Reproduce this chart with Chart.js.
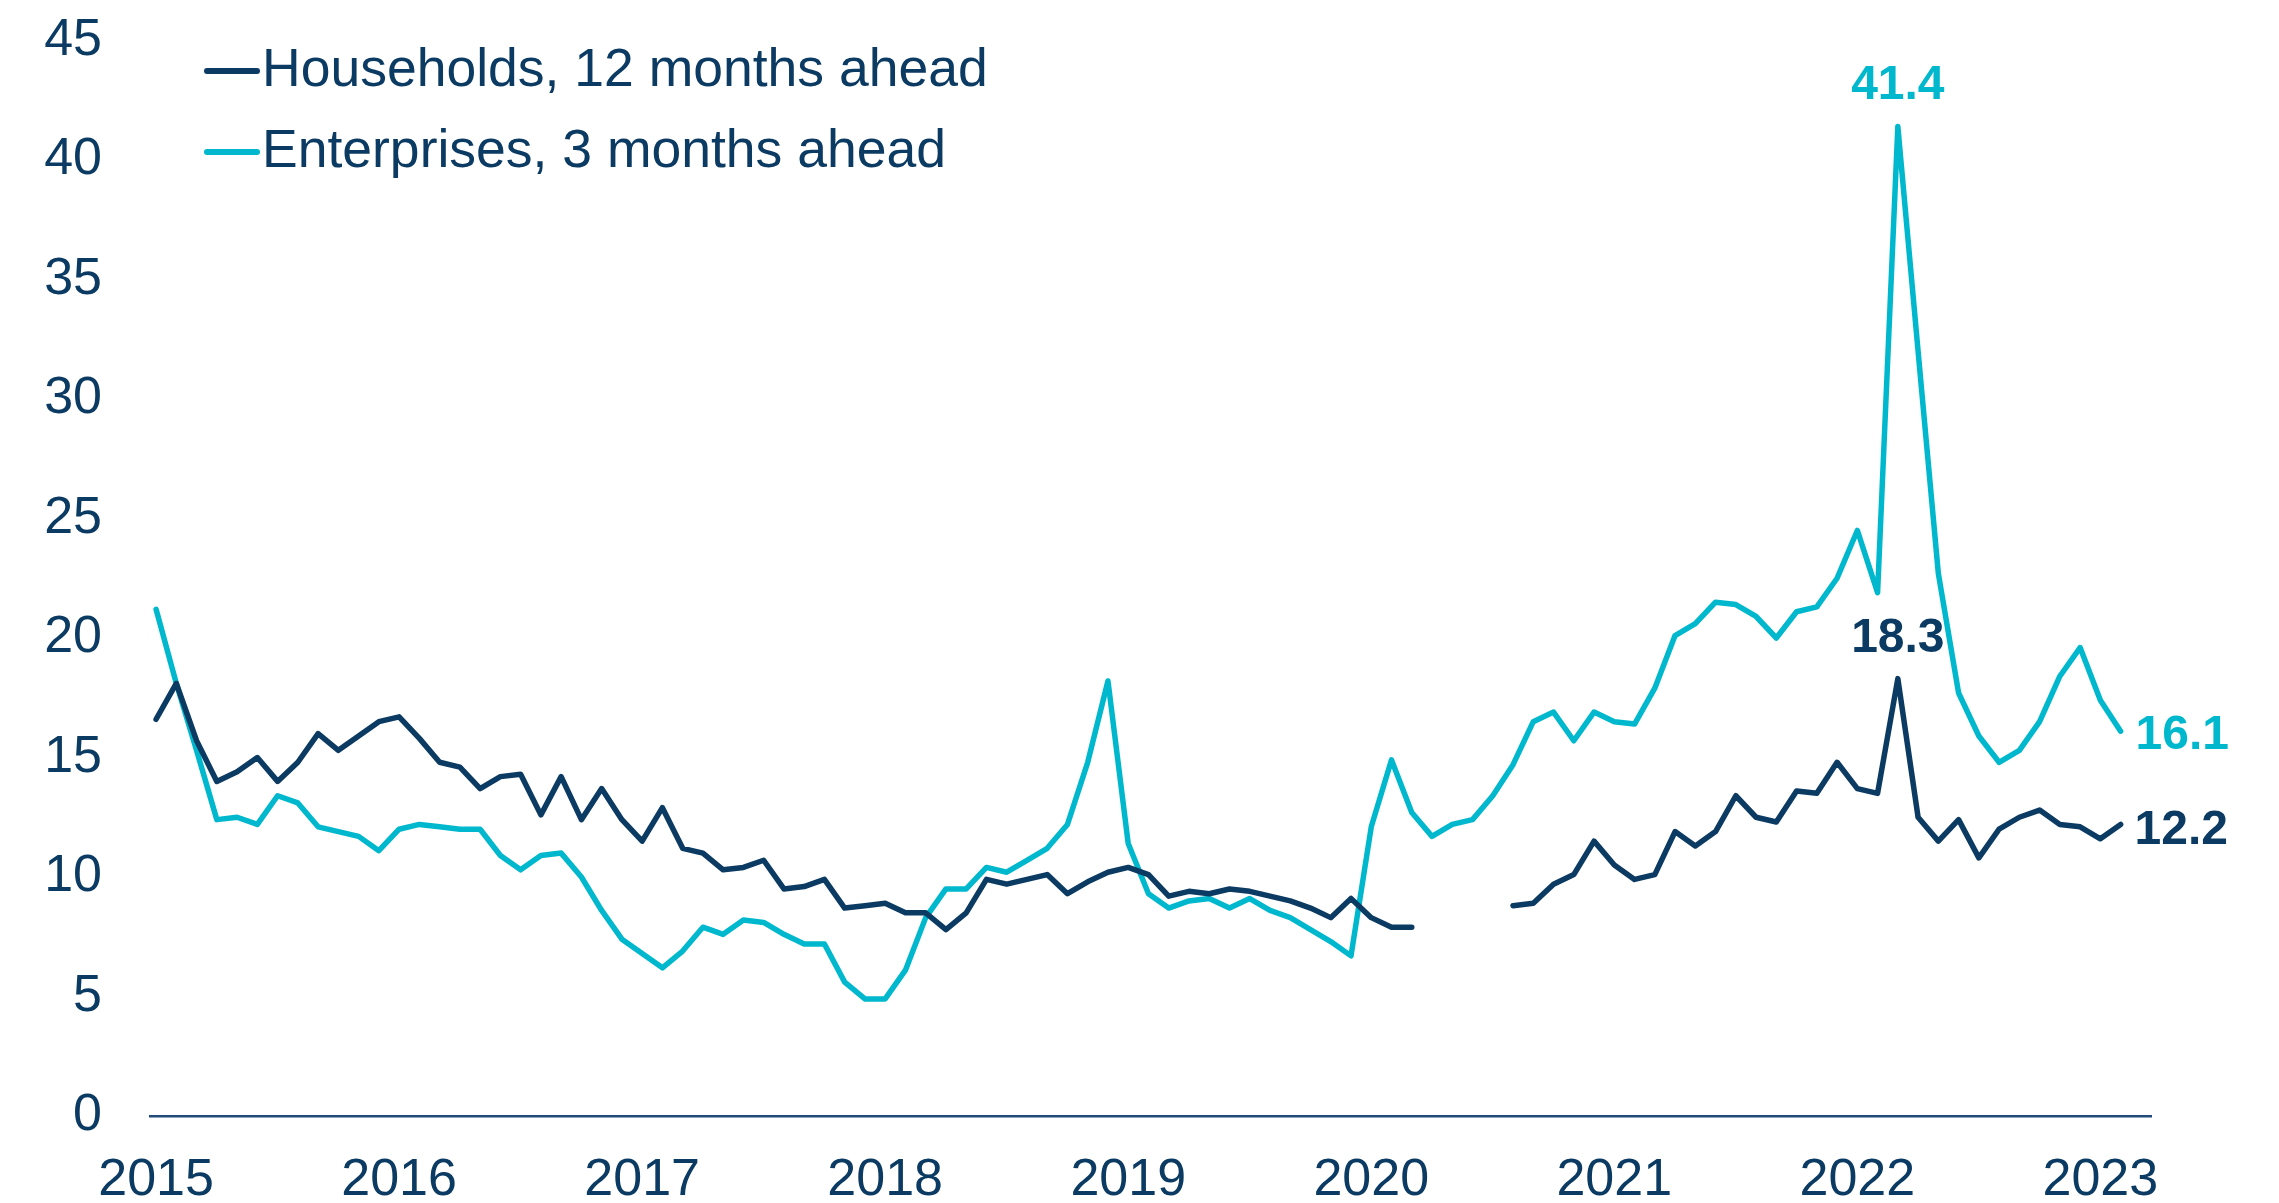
<!DOCTYPE html>
<html>
<head>
<meta charset="utf-8">
<script src="https://cdn.jsdelivr.net/npm/chart.js@4"></script>
<style>
  html, body { margin: 0; padding: 0; background: #ffffff; }
  #wrap { width: 2279px; height: 1203px; }
</style>
</head>
<body>
<div id="wrap"><canvas id="chart" width="2279" height="1203"></canvas></div>
<script>
// Monthly observations, January 2015 to February 2023 (index 0 = Jan 2015)
const firstYear = 2015;
const yearLabels = ['2015', '2016', '2017', '2018', '2019', '2020', '2021', '2022', '2023'];

const households = [
  16.6, 18.1, 15.7, 14.0, 14.4, 15.0, 14.0, 14.8, 16.0, 15.3, 15.9, 16.5,
  16.7, 15.8, 14.8, 14.6, 13.7, 14.2, 14.3, 12.6, 14.2, 12.4, 13.7, 12.4,
  11.5, 12.9, 11.2, 11.0, 10.3, 10.4, 10.7, 9.5, 9.6, 9.9, 8.7, 8.8,
  8.9, 8.5, 8.5, 7.8, 8.5, 9.9, 9.7, 9.9, 10.1, 9.3, 9.8, 10.2,
  10.4, 10.1, 9.2, 9.4, 9.3, 9.5, 9.4, 9.2, 9.0, 8.7, 8.3, 9.1,
  8.3, 7.9, 7.9, null, null, null, null, 8.8, 8.9, 9.7, 10.1, 11.5,
  10.5, 9.9, 10.1, 11.9, 11.3, 11.9, 13.4, 12.5, 12.3, 13.6, 13.5, 14.8,
  13.7, 13.5, 18.3, 12.5, 11.5, 12.4, 10.8, 12.0, 12.5, 12.8, 12.2, 12.1,
  11.6, 12.2
];

const enterprises = [
  21.2, 18.1, 15.3, 12.4, 12.5, 12.2, 13.4, 13.1, 12.1, 11.9, 11.7, 11.1,
  12.0, 12.2, 12.1, 12.0, 12.0, 10.9, 10.3, 10.9, 11.0, 10.0, 8.6, 7.4,
  6.8, 6.2, 6.9, 7.9, 7.6, 8.2, 8.1, 7.6, 7.2, 7.2, 5.6, 4.9,
  4.9, 6.1, 8.3, 9.5, 9.5, 10.4, 10.2, 10.7, 11.2, 12.2, 14.8, 18.2,
  11.4, 9.3, 8.7, 9.0, 9.1, 8.7, 9.1, 8.6, 8.3, 7.8, 7.3, 6.7,
  12.1, 14.9, 12.7, 11.7, 12.2, 12.4, 13.4, 14.7, 16.5, 16.9, 15.7, 16.9,
  16.5, 16.4, 17.9, 20.1, 20.6, 21.5, 21.4, 20.9, 20.0, 21.1, 21.3, 22.5,
  24.5, 21.9, 41.4, 32.0, 22.7, 17.7, 15.9, 14.8, 15.3, 16.5, 18.4, 19.6,
  17.4, 16.1
];

const seriesNames = ['Households, 12 months ahead', 'Enterprises, 3 months ahead'];

const NAVY = '#0b3a62';
const CYAN = '#00b8cd';
const AXIS = '#214b78';
const FONT = '"Liberation Sans", Arial, Helvetica, sans-serif';

const toPoints = arr => arr.map((v, i) => ({ x: i, y: v }));
const yearTickValues = yearLabels.map((_, k) => k * 12);

// Inline legend in the upper-left corner of the plot
const legendPlugin = {
  id: 'inlineLegend',
  afterDraw(chart) {
    const ctx = chart.ctx;
    const items = [
      { text: seriesNames[0], color: NAVY, y: 71 },
      { text: seriesNames[1], color: CYAN, y: 152 }
    ];
    ctx.save();
    ctx.font = '53.5px ' + FONT;
    ctx.textBaseline = 'middle';
    ctx.textAlign = 'left';
    items.forEach(it => {
      ctx.strokeStyle = it.color;
      ctx.lineWidth = 6;
      ctx.lineCap = 'round';
      ctx.beginPath();
      ctx.moveTo(207, it.y);
      ctx.lineTo(257, it.y);
      ctx.stroke();
      ctx.fillStyle = NAVY;
      ctx.fillText(it.text, 262, it.y);
    });
    ctx.restore();
  }
};

// Value callouts: peak in March 2022 and latest observation
const callouts = [
  { ds: 1, idx: 86, color: CYAN, align: 'center', dx: 0, dy: -41 },
  { ds: 0, idx: 86, color: NAVY, align: 'center', dx: 0, dy: -40 },
  { ds: 1, idx: 97, color: CYAN, align: 'left', dx: 15, dy: 5 },
  { ds: 0, idx: 97, color: NAVY, align: 'left', dx: 14, dy: 6 }
];

const calloutPlugin = {
  id: 'callouts',
  afterDatasetsDraw(chart) {
    const ctx = chart.ctx;
    const xs = chart.scales.x, ys = chart.scales.y;
    ctx.save();
    ctx.font = 'bold 48px ' + FONT;
    ctx.textBaseline = 'middle';
    callouts.forEach(c => {
      const v = chart.data.datasets[c.ds].data[c.idx].y;
      const px = xs.getPixelForValue(c.idx) + c.dx;
      const py = ys.getPixelForValue(v) + c.dy;
      ctx.fillStyle = c.color;
      ctx.textAlign = c.align;
      ctx.fillText(v.toFixed(1), px, py);
    });
    ctx.restore();
  }
};

new Chart(document.getElementById('chart'), {
  type: 'line',
  data: {
    datasets: [
      {
        label: seriesNames[0],
        data: toPoints(households),
        borderColor: NAVY,
        borderWidth: 5.5,
        pointRadius: 0,
        tension: 0,
        spanGaps: false,
        borderJoinStyle: 'round',
        borderCapStyle: 'round'
      },
      {
        label: seriesNames[1],
        data: toPoints(enterprises),
        borderColor: CYAN,
        borderWidth: 5.5,
        pointRadius: 0,
        tension: 0,
        borderJoinStyle: 'round',
        borderCapStyle: 'round'
      }
    ]
  },
  options: {
    responsive: false,
    animation: false,
    devicePixelRatio: 1,
    layout: { padding: { top: 40.5, right: 128, left: 0, bottom: 0 } },
    plugins: {
      legend: { display: false },
      tooltip: { enabled: false }
    },
    scales: {
      x: {
        type: 'linear',
        min: -0.3,
        max: 98.5,
        afterFit(scale) {
          scale.height = 87;
          scale.paddingLeft = 0;
          scale.paddingRight = 0;
        },
        afterBuildTicks(scale) { scale.ticks = yearTickValues.map(v => ({ value: v })); },
        grid: { display: false, drawTicks: false },
        border: { display: true, color: AXIS, width: 2.5 },
        ticks: {
          autoSkip: false,
          maxRotation: 0,
          padding: 33,
          color: NAVY,
          font: { family: FONT, size: 52 },
          callback: v => String(firstYear + v / 12)
        }
      },
      y: {
        min: 0,
        max: 45,
        afterFit(scale) {
          scale.width = 150;
          scale.paddingTop = 0;
          scale.paddingBottom = 0;
        },
        grid: { display: false, drawTicks: false },
        border: { display: false },
        ticks: {
          stepSize: 5,
          padding: 48,
          color: NAVY,
          font: { family: FONT, size: 52 }
        }
      }
    }
  },
  plugins: [legendPlugin, calloutPlugin]
});
</script>
</body>
</html>
